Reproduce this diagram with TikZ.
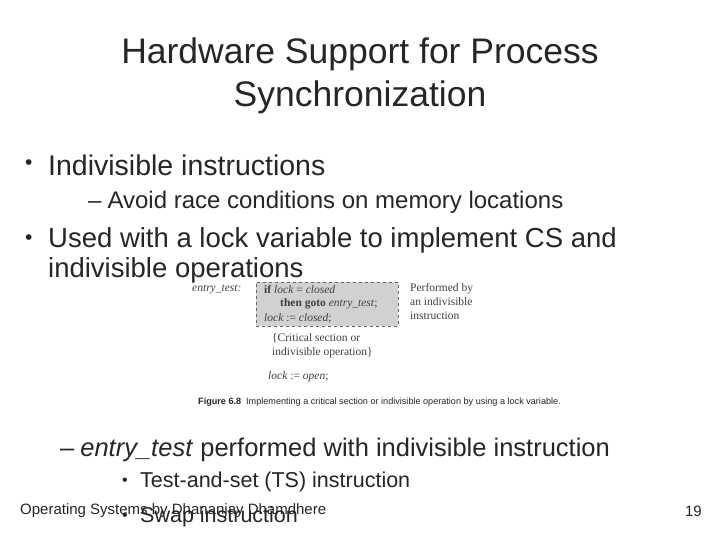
\documentclass[tikz,border=0pt]{standalone}
\usepackage{fontspec}
\setmainfont{Liberation Sans}
\newfontfamily\serif{Liberation Serif}
\begin{document}
\begin{tikzpicture}[x=1pt,y=-1pt,
  txt/.style={anchor=west,inner sep=0pt,text=black!85},
  fig/.style={anchor=west,inner sep=0pt,font=\serif\fontsize{11.5}{14}\selectfont,text=black!75}]
\useasboundingbox[fill=white] (0,0) rectangle (720,540);
\node[align=center,font=\fontsize{35.5}{43}\selectfont,text=black!85] (title) at (360,76) {Hardware Support for Process\\Synchronization};
\node[txt,font=\fontsize{21}{30}\selectfont] (d1) at (25,165) {•};
\node[txt,font=\fontsize{28.5}{30}\selectfont] (b1) at (48,165) {Indivisible instructions};
\node[txt,font=\fontsize{24}{26}\selectfont] (s1) at (88,202) {–\hspace{6pt}Avoid race conditions on memory locations};
\node[txt,font=\fontsize{21}{30}\selectfont] (d2) at (25,240) {•};
\node[txt,font=\fontsize{27.5}{30}\selectfont] (b2) at (48,240) {Used with a lock variable to implement CS and};
\node[txt,font=\fontsize{27.5}{30}\selectfont] (b2b) at (48,270) {indivisible operations};
\node[draw=black!60,dashed,fill=black!18,minimum width=142pt,minimum height=44pt,anchor=north west,inner sep=0pt] (box) at (256,282) {};
\node[fig] (et) at (192,290) {\itshape entry\_test:};
\node[fig] (l1) at (264,290) {\textbf{if} \textit{lock} = \textit{closed}};
\node[fig] (l2) at (280,304) {\textbf{then goto} \textit{entry\_test};};
\node[fig] (l3) at (264,318) {\textit{lock} := \textit{closed};};
\node[fig,align=left,anchor=north west] (pb) at (410,283) {Performed by\\an indivisible\\instruction};
\node[fig,align=left,anchor=north west] (cs) at (272,333) {\{Critical section or\\indivisible operation\}};
\node[fig] (lo) at (268,377) {\textit{lock} := \textit{open};};
\node[txt,font=\fontsize{9.1}{11}\selectfont] (cap) at (198,402) {\textbf{Figure 6.8}\hspace{5pt}Implementing a critical section or indivisible operation by using a lock variable.};
\node[txt,font=\fontsize{25.5}{28}\selectfont] (s2) at (60,450) {–\hspace{6pt}\textit{entry\_test} performed with indivisible instruction};
\node[txt,font=\fontsize{16}{24}\selectfont] (e1) at (122,482) {•};
\node[txt,font=\fontsize{21.5}{24}\selectfont] (t1) at (140,482) {Test-and-set (TS) instruction};
\node[txt,font=\fontsize{16}{24}\selectfont] (e2) at (122,517) {•};
\node[txt,font=\fontsize{21.5}{24}\selectfont] (t2) at (140,517) {Swap instruction};
\node[txt,font=\fontsize{15}{17}\selectfont] (foot) at (20,511) {Operating Systems by Dhananjay Dhamdhere};
\node[txt,font=\fontsize{15}{17}\selectfont,anchor=east] (pg) at (702,511) {19};
\end{tikzpicture}
\end{document}
